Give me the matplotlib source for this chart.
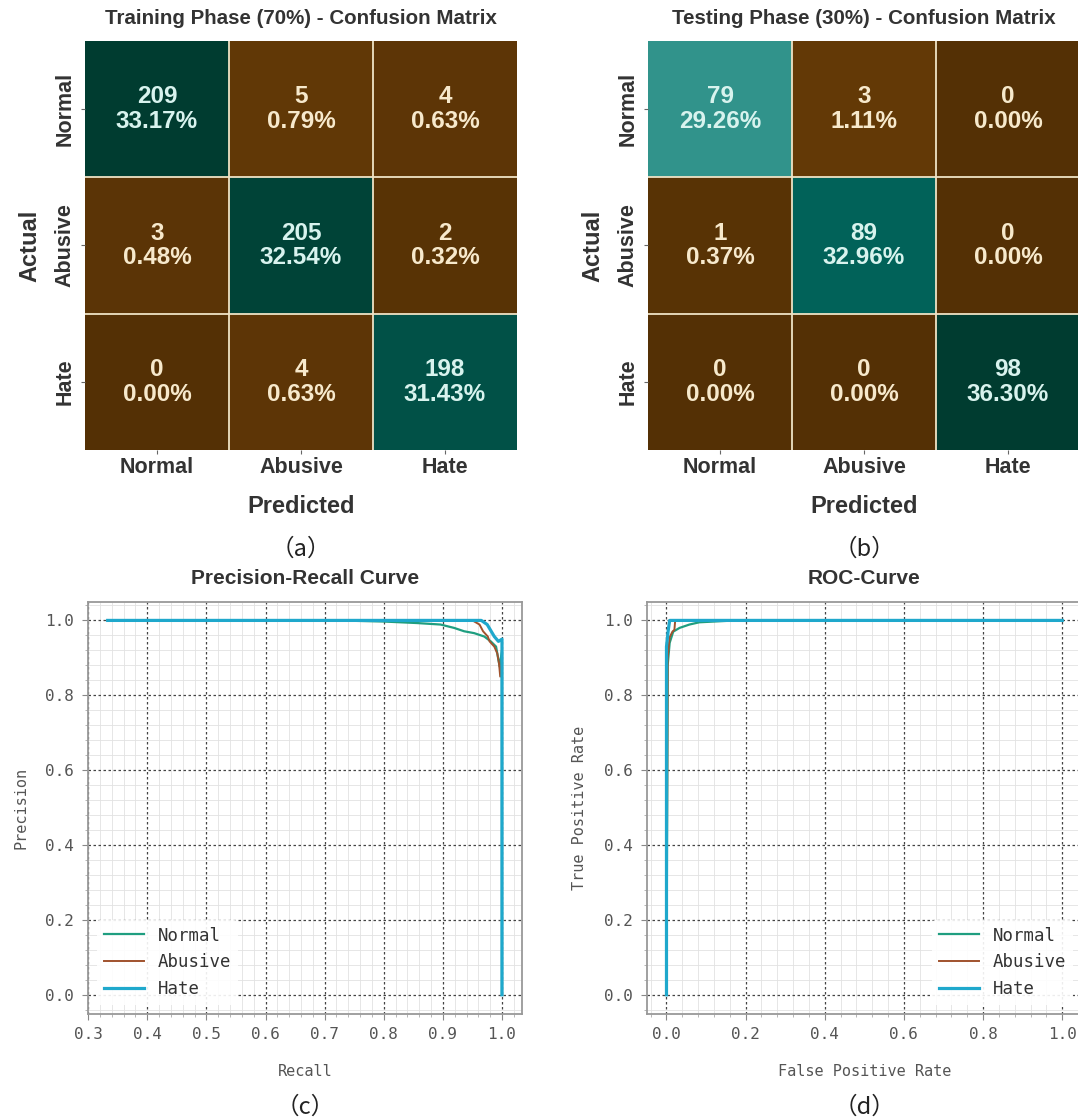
import numpy as np
import matplotlib
matplotlib.use("Agg")
import matplotlib.pyplot as plt
from matplotlib.ticker import AutoMinorLocator, MultipleLocator

# class names and confusion matrices
classes = ["Normal", "Abusive", "Hate"]
train_cm = np.array([[209, 5, 4],
                     [3, 205, 2],
                     [0, 4, 198]])
test_cm = np.array([[79, 3, 0],
                    [1, 89, 0],
                    [0, 0, 98]])

# precision-recall curves (recall, precision)
pr_recall = {
    "Normal": [0.333, 0.72, 0.80, 0.856, 0.896, 0.919, 0.936, 0.953, 0.970, 0.981, 0.990, 0.996, 1.0, 1.0, 1.0],
    "Abusive": [0.333, 0.80, 0.95, 0.962, 0.968, 0.976, 0.979, 0.987, 0.992, 0.995, 0.997, 1.0, 1.0],
    "Hate": [0.333, 0.80, 0.965, 0.975, 0.987, 0.994, 1.0, 1.0],
}
pr_precision = {
    "Normal": [1.0, 1.0, 0.997, 0.993, 0.989, 0.980, 0.971, 0.966, 0.957, 0.944, 0.930, 0.877, 0.92, 0.79, 0.0],
    "Abusive": [1.0, 1.0, 1.0, 0.989, 0.971, 0.957, 0.944, 0.930, 0.912, 0.885, 0.85, 0.90, 0.0],
    "Hate": [1.0, 1.0, 1.0, 0.989, 0.957, 0.944, 0.95, 0.0],
}

# ROC curves (fpr, tpr)
roc_fpr = {
    "Normal": [0.0, 0.003, 0.008, 0.017, 0.033, 0.058, 0.083, 0.12, 0.175, 1.0],
    "Abusive": [0.0, 0.003, 0.008, 0.015, 0.02, 0.022, 0.04, 0.065, 1.0],
    "Hate": [0.0, 0.0, 0.004, 0.008, 1.0],
}
roc_tpr = {
    "Normal": [0.0, 0.88, 0.94, 0.97, 0.98, 0.989, 0.995, 0.997, 1.0, 1.0],
    "Abusive": [0.0, 0.90, 0.955, 0.97, 0.975, 1.0, 1.0, 1.0, 1.0],
    "Hate": [0.0, 0.93, 0.97, 1.0, 1.0],
}

line_colors = {"Normal": "#1f9e80", "Abusive": "#a0522d", "Hate": "#1fa8cc"}
line_widths = {"Normal": 1.6, "Abusive": 1.4, "Hate": 2.3}

W, H = 1078, 1119
SANS = "Liberation Sans"
MONO = "DejaVu Sans Mono"


def rect(l, t, r, b):
    return [l / W, 1 - b / H, (r - l) / W, (b - t) / H]


def draw_cm(ax, cm, title, letter):
    total = cm.sum()
    vmax = cm.max()
    ax.pcolormesh(cm, cmap="BrBG", vmin=0, vmax=vmax)
    ax.set_xlim(0, 3)
    ax.set_ylim(3, 0)
    for k in (1, 2):
        ax.axhline(k, color="#efe3c5", lw=1.3)
        ax.axvline(k, color="#efe3c5", lw=1.3)
    for i in range(3):
        for j in range(3):
            v = cm[i, j]
            col = "#d8f3ee" if v / vmax > 0.5 else "#f7e9cc"
            ax.text(j + 0.5, i + 0.5, f"{v}\n{v / total * 100:.2f}%",
                    ha="center", va="center", color=col, fontsize=17.5,
                    fontweight="bold", family=SANS, linespacing=1.08)
    for s in ax.spines.values():
        s.set_visible(False)
    ax.set_xticks([0.5, 1.5, 2.5])
    ax.set_yticks([0.5, 1.5, 2.5])
    ax.set_xticklabels(classes, fontsize=15.5, fontweight="bold", family=SANS, color="#333333")
    ax.set_yticklabels(classes, fontsize=15.5, fontweight="bold", family=SANS, color="#333333",
                       rotation=90, va="center")
    ax.tick_params(axis="both", length=3, color="#666666")
    ax.tick_params(axis="x", pad=2)
    ax.tick_params(axis="y", pad=4)
    ax.set_xlabel("Predicted", fontsize=17, fontweight="bold", family=SANS, color="#333333")
    ax.set_ylabel("Actual", fontsize=17, fontweight="bold", family=SANS, color="#333333")
    ax.xaxis.set_label_coords(0.5, -0.137)
    ax.xaxis.label.set_va("center")
    ax.yaxis.set_label_coords(-0.128, 0.5)
    ax.yaxis.label.set_va("center")
    ax.set_title(title, fontsize=14.8, fontweight="bold", family=SANS, color="#333333", pad=12)
    ax.text(0.5, -0.243, letter, transform=ax.transAxes, ha="center", va="center",
            fontsize=17, family="Noto Sans CJK SC", color="#222222")


def draw_curves(ax, xs, ys, title, xlabel, ylabel, letter, legend_loc):
    for name in classes:
        ax.plot(xs[name], ys[name], color=line_colors[name], lw=line_widths[name], label=name)
    ax.grid(which="major", color="#444444", linestyle=(0, (2, 2)), lw=0.9)
    ax.grid(which="minor", color="#e2e2e2", linestyle="-", lw=0.6)
    ax.set_axisbelow(True)
    for s in ax.spines.values():
        s.set_color("#999999")
        s.set_linewidth(1.3)
    ax.tick_params(which="major", length=4, color="#888888", labelsize=11.5, labelcolor="#555555", pad=6)
    ax.tick_params(which="minor", length=2, color="#aaaaaa")
    ax.set_xlabel(xlabel, fontsize=11, family=MONO, color="#555555")
    ax.set_ylabel(ylabel, fontsize=11, family=MONO, color="#555555")
    ax.xaxis.set_label_coords(0.5, -0.142)
    ax.xaxis.label.set_va("center")
    ax.yaxis.set_label_coords(-0.155, 0.5)
    ax.yaxis.label.set_va("center")
    ax.set_title(title, fontsize=15, fontweight="bold", family=SANS, color="#333333", pad=13)
    leg = ax.legend(loc=legend_loc, prop={"family": MONO, "size": 12.5},
                    frameon=True, framealpha=0.9, edgecolor="none", handlelength=2.3)
    for t in leg.get_texts():
        t.set_color("#333333")
    ax.text(0.5, -0.228, letter, transform=ax.transAxes, ha="center", va="center",
            fontsize=17, family="Noto Sans CJK SC", color="#222222")


fig = plt.figure(figsize=(W / 100, H / 100), dpi=100)
fig.patch.set_facecolor("white")

ax_a = fig.add_axes(rect(85, 41, 517, 450))
ax_b = fig.add_axes(rect(648, 41, 1080, 450))
ax_c = fig.add_axes(rect(88, 601.7, 521.7, 1013.5))
ax_d = fig.add_axes(rect(646.7, 601.7, 1082, 1013.5))

draw_cm(ax_a, train_cm, "Training Phase (70%) - Confusion Matrix", "（a）")
draw_cm(ax_b, test_cm, "Testing Phase (30%) - Confusion Matrix", "（b）")
draw_curves(ax_c, pr_recall, pr_precision, "Precision-Recall Curve", "Recall", "Precision",
            "（c）", "lower left")
draw_curves(ax_d, roc_fpr, roc_tpr, "ROC-Curve", "False Positive Rate", "True Positive Rate",
            "（d）", "lower right")

ax_c.xaxis.set_major_locator(MultipleLocator(0.1))
ax_c.yaxis.set_major_locator(MultipleLocator(0.2))
ax_d.xaxis.set_major_locator(MultipleLocator(0.2))
ax_d.yaxis.set_major_locator(MultipleLocator(0.2))
for ax in (ax_c, ax_d):
    ax.xaxis.set_minor_locator(AutoMinorLocator(5))
    ax.yaxis.set_minor_locator(AutoMinorLocator(5))
    for lab in ax.get_xticklabels() + ax.get_yticklabels():
        lab.set_family(MONO)

fig.savefig("out.png", dpi=100, facecolor="white")
